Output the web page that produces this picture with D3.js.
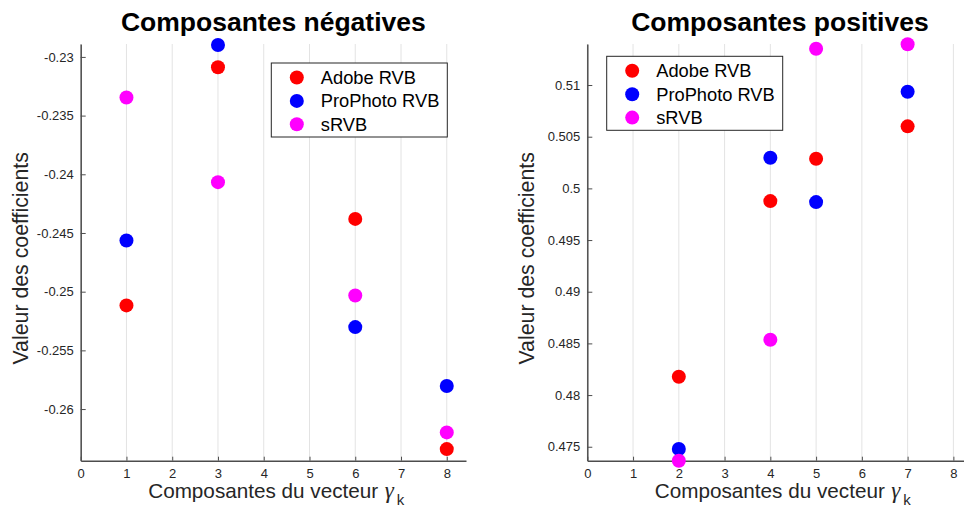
<!DOCTYPE html>
<html>
<head>
<meta charset="utf-8">
<script src="https://cdn.jsdelivr.net/npm/d3@7"></script>
<style>
  html, body { margin: 0; padding: 0; background: #fff; }
  svg { display: block; font-family: "Liberation Sans", Arial, sans-serif; }
</style>
</head>
<body>
<svg id="chart" width="964" height="508"></svg>
<script>
// Series shared by both panels
const seriesNames = ["Adobe RVB", "ProPhoto RVB", "sRVB"];
const seriesColors = ["#ff0000", "#0000ff", "#ff00ff"];

// Negative components of the gamma vector
const negComponents = [1, 3, 6, 8];
const negAdobe    = [-0.25117, -0.23088, -0.24380, -0.26341];
const negProPhoto = [-0.24564, -0.22898, -0.25302, -0.25804];
const negSRVB     = [-0.23346, -0.24067, -0.25032, -0.26199];

// Positive components of the gamma vector
const posComponents = [2, 4, 5, 7];
const posAdobe    = [0.48177, 0.49877, 0.50287, 0.50600];
const posProPhoto = [0.47478, 0.50297, 0.49867, 0.50935];
const posSRVB     = [0.47365, 0.48536, 0.51351, 0.51394];

// Axis ticks and limits
const xTicks = [0, 1, 2, 3, 4, 5, 6, 7, 8];
const xLimits = [0, 8.42];
const negYTicks = [-0.26, -0.255, -0.25, -0.245, -0.24, -0.235, -0.23];
const negYLimits = [-0.2644, -0.2289];
const posYTicks = [0.475, 0.48, 0.485, 0.49, 0.495, 0.5, 0.505, 0.51];
const posYLimits = [0.47365, 0.51397];

const svg = d3.select("#chart");
const fmt = d => String(+d.toFixed(3));

function panel(opts) {
  const { left, right, top, bottom, title, comps, series, yTicks, yLimits, legendPos } = opts;
  const x = d3.scaleLinear().domain(xLimits).range([left, right]);
  const y = d3.scaleLinear().domain(yLimits).range([bottom, top]);
  const g = svg.append("g");

  // vertical grid
  g.append("g").selectAll("line").data(xTicks).join("line")
    .attr("x1", d => x(d)).attr("x2", d => x(d))
    .attr("y1", top).attr("y2", bottom)
    .attr("stroke", "#e3e3e3").attr("stroke-width", 1);

  // axes
  const xAxis = g.append("g").attr("transform", `translate(0,${bottom})`)
    .call(d3.axisBottom(x).tickValues(xTicks).tickFormat(d3.format("d"))
      .tickSizeInner(-4).tickSizeOuter(0).tickPadding(8));
  const yAxis = g.append("g").attr("transform", `translate(${left},0)`)
    .call(d3.axisLeft(y).tickValues(yTicks).tickFormat(fmt)
      .tickSizeInner(-5).tickSizeOuter(0).tickPadding(7));
  [xAxis, yAxis].forEach(a => {
    a.select(".domain").attr("stroke", "#4d4d4d").attr("stroke-width", 1.5);
    a.selectAll(".tick line").attr("stroke", "#4d4d4d").attr("stroke-width", 1);
    a.selectAll(".tick text").attr("fill", "#262626")
      .style("font-family", "'Liberation Sans', Arial, sans-serif").style("font-size", "13px");
  });

  // title
  g.append("text")
    .attr("x", (left + right) / 2).attr("y", 31)
    .attr("text-anchor", "middle")
    .style("font-size", "26.5px").style("font-weight", "bold").attr("fill", "#000")
    .text(title);

  // x label: text, then the gamma symbol with its subscript
  const xl = g.append("g").attr("fill", "#262626");
  xl.append("text").attr("x", left + 67.5).attr("y", 498)
    .style("font-size", "20.7px").text("Composantes du vecteur");
  xl.append("text").attr("x", left + 304).attr("y", 498)
    .style("font-family", "'Liberation Serif', 'Times New Roman', serif")
    .style("font-style", "italic")
    .style("font-size", "23px").text("γ");
  xl.append("text").attr("x", left + 316).attr("y", 505)
    .style("font-size", "15px").text("k");

  // y label
  g.append("text")
    .attr("transform", `translate(${left - 53},${(top + bottom) / 2 + 6}) rotate(-90)`)
    .attr("text-anchor", "middle").attr("fill", "#262626")
    .style("font-size", "21.3px")
    .text("Valeur des coefficients");

  // markers
  series.forEach((vals, si) => {
    g.append("g").selectAll("circle").data(vals).join("circle")
      .attr("cx", (d, i) => x(comps[i]))
      .attr("cy", d => y(d))
      .attr("r", 7)
      .attr("fill", seriesColors[si]);
  });

  // legend
  const lg = g.append("g").attr("transform", `translate(${legendPos[0]},${legendPos[1]})`);
  lg.append("rect").attr("x", 0).attr("y", 0).attr("width", 176).attr("height", 74)
    .attr("fill", "#fff").attr("stroke", "#262626").attr("stroke-width", 1);
  seriesNames.forEach((name, i) => {
    const cy = 14.5 + i * 23.4;
    lg.append("circle").attr("cx", 25.5).attr("cy", cy).attr("r", 7).attr("fill", seriesColors[i]);
    lg.append("text").attr("x", 49.5).attr("y", cy + 6.5)
      .style("font-size", "18.3px").attr("fill", "#000").text(name);
  });
}

panel({
  left: 80.7, right: 466, top: 44, bottom: 460.7,
  title: "Composantes négatives",
  comps: negComponents,
  series: [negAdobe, negProPhoto, negSRVB],
  yTicks: negYTicks, yLimits: negYLimits,
  legendPos: [271.3, 63]
});

panel({
  left: 587.3, right: 972.6, top: 44, bottom: 460.7,
  title: "Composantes positives",
  comps: posComponents,
  series: [posAdobe, posProPhoto, posSRVB],
  yTicks: posYTicks, yLimits: posYLimits,
  legendPos: [606.7, 56.3]
});
</script>
</body>
</html>
